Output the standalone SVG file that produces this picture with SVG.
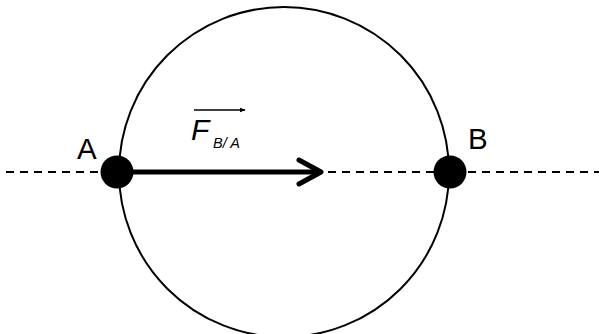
<svg xmlns="http://www.w3.org/2000/svg" width="599" height="334" viewBox="0 0 599 334">
<style>
.lbl{font-family:"Liberation Sans",Arial,sans-serif;fill:#000}
.it{font-style:italic}
.dash{stroke:#000;stroke-width:2;stroke-dasharray:8 6;fill:none}
</style>
<defs>
<marker id="small" viewBox="0 0 10 10" refX="9" refY="5" markerWidth="6" markerHeight="6" orient="auto" markerUnits="userSpaceOnUse">
<path d="M0,1 L10,5 L0,9 Z" fill="#000"/>
</marker>
</defs>
<rect width="599" height="334" fill="#fff"/>
<g id="circle">
<circle cx="284" cy="172" r="165" fill="none" stroke="#000" stroke-width="2"/>
</g>
<g id="connectors">
<line class="dash" x1="6" y1="172" x2="599" y2="172"/>
<line x1="118" y1="172" x2="318" y2="172" stroke="#000" stroke-width="5"/>
<polyline points="299,160 321,172 299,184" fill="none" stroke="#000" stroke-width="5" stroke-linecap="round" stroke-linejoin="round"/>
</g>
<g id="nodeA">
<circle cx="117" cy="172" r="16.5" fill="#000"/>
<text class="lbl" x="77" y="159" font-size="29.5">A</text>
</g>
<g id="nodeB">
<circle cx="450" cy="172" r="16.5" fill="#000"/>
<text class="lbl" x="468" y="149" font-size="29.5">B</text>
</g>
<g id="force">
<line x1="194" y1="110" x2="245" y2="110" stroke="#000" stroke-width="1.5" marker-end="url(#small)"/>
<text class="lbl it" x="191" y="140" font-size="30">F</text>
<text class="lbl it" x="213" y="148" font-size="14.5">B/ A</text>
</g>
</svg>
